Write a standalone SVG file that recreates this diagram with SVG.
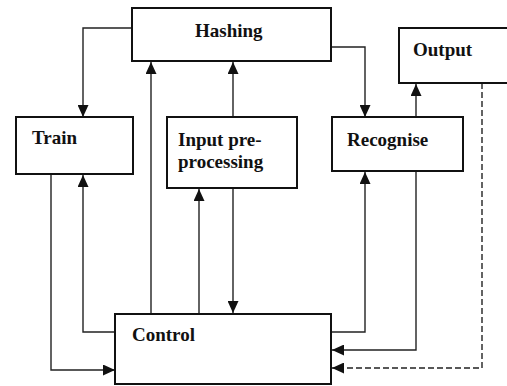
<svg xmlns="http://www.w3.org/2000/svg" width="507" height="386" viewBox="0 0 507 386">
<style>
.box{fill:#fff;stroke:#111;stroke-width:2}
.lbl{font-family:"Liberation Serif","Times New Roman",serif;font-weight:bold;font-size:19px;fill:#111}
.c{fill:none;stroke:#222;stroke-width:1.4}
.d{stroke-dasharray:6,3}
</style>
<defs>
<marker id="ah" viewBox="0 0 12 11" refX="12" refY="5.5" markerWidth="12" markerHeight="11" markerUnits="userSpaceOnUse" orient="auto">
<path d="M0,0 L12,5.5 L0,11 z" fill="#111"/>
</marker>
</defs>
<rect width="507" height="386" fill="#fff"/>
<g id="connectors">
<path class="c" d="M132,28 H83 V117" marker-end="url(#ah)"/>
<path class="c" d="M331,47 H365 V117" marker-end="url(#ah)"/>
<path class="c" d="M151,314 V62" marker-end="url(#ah)"/>
<path class="c" d="M233,117 V62" marker-end="url(#ah)"/>
<path class="c" d="M416,117 V84" marker-end="url(#ah)"/>
<path class="c" d="M51,174 V370 H115" marker-end="url(#ah)"/>
<path class="c" d="M115,332 H83 V175" marker-end="url(#ah)"/>
<path class="c" d="M199,314 V189" marker-end="url(#ah)"/>
<path class="c" d="M233,188 V313" marker-end="url(#ah)"/>
<path class="c" d="M331,332 H365 V172" marker-end="url(#ah)"/>
<path class="c" d="M416,171 V350 H332" marker-end="url(#ah)"/>
<path class="c d" d="M482,83 V368 H332" marker-end="url(#ah)"/>
</g>
<g id="hashing">
<rect class="box" x="132" y="8" width="199" height="53"/>
<text class="lbl" x="195" y="37">Hashing</text>
</g>
<g id="output">
<rect class="box" x="399" y="28" width="115" height="55"/>
<text class="lbl" x="413" y="56">Output</text>
</g>
<g id="train">
<rect class="box" x="16" y="117" width="117" height="57"/>
<text class="lbl" x="32" y="144">Train</text>
</g>
<g id="input">
<rect class="box" x="167" y="117" width="130" height="71"/>
<text class="lbl" x="178" y="146">Input pre-</text>
<text class="lbl" x="178" y="168">processing</text>
</g>
<g id="recognise">
<rect class="box" x="332" y="117" width="131" height="54"/>
<text class="lbl" x="347" y="146">Recognise</text>
</g>
<g id="control">
<rect class="box" x="115" y="314" width="216" height="70"/>
<text class="lbl" x="132" y="341">Control</text>
</g>
</svg>
